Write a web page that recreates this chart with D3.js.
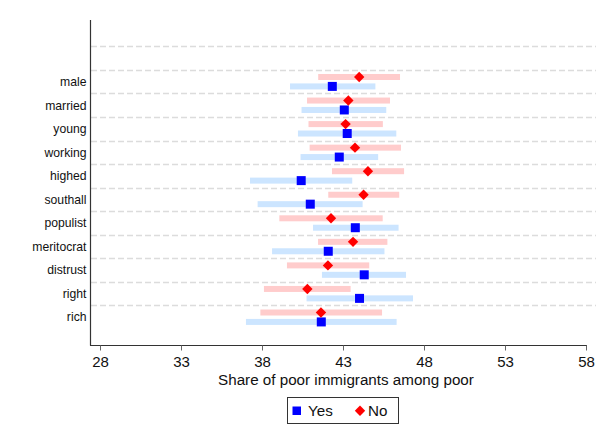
<!DOCTYPE html>
<html>
<head>
<meta charset="utf-8">
<script src="https://cdn.jsdelivr.net/npm/d3@7"></script>
<style>
  html, body { margin: 0; padding: 0; background: #fff; }
  svg { display: block; font-family: "Liberation Sans", Arial, Helvetica, sans-serif; }
</style>
</head>
<body>
<script>
// Groups shown on the vertical axis, top to bottom
const categories = ["male", "married", "young", "working", "highed", "southall",
                    "populist", "meritocrat", "distrust", "right", "rich"];

// "Yes" group: point estimate and confidence interval
const yesEst = [42.34, 43.08, 43.26, 42.77, 40.42, 40.98, 43.76, 42.09, 44.31, 44.02, 41.66];
const yesLo  = [39.73, 40.44, 40.22, 40.38, 37.26, 37.73, 41.15, 38.62, 41.70, 40.75, 37.01];
const yesHi  = [45.00, 45.67, 46.29, 45.17, 43.57, 44.21, 46.43, 45.56, 46.89, 47.32, 46.31];

// "No" group: point estimate and confidence interval
const noEst = [44.00, 43.33, 43.16, 43.74, 44.54, 44.27, 42.26, 43.62, 42.07, 40.80, 41.64];
const noLo  = [41.47, 40.78, 40.87, 40.94, 42.32, 42.09, 39.07, 41.46, 39.54, 38.12, 37.90];
const noHi  = [46.52, 45.90, 45.46, 46.58, 46.77, 46.47, 45.45, 45.74, 44.62, 43.47, 45.41];

// Axis ticks
const xTicks = [28, 33, 38, 43, 48, 53, 58];
const xTitle = "Share of poor immigrants among poor";
const legendLabels = ["Yes", "No"];

const W = 603, H = 442;
const plotLeft = 90, plotRight = 596, plotTop = 20, plotBottom = 345;

const svg = d3.select("body").append("svg")
  .attr("width", W).attr("height", H);

svg.append("rect").attr("width", W).attr("height", H).attr("fill", "#fff");

const x = d3.scaleLinear().domain([28, 58]).range([100, 586]);
// category index -> vertical position (row 0 = first category)
const y = d3.scaleLinear().domain([-2.62, 11.18]).range([plotTop, plotBottom]);

const colYes = "#0000ff", colNo = "#ff0000";
const ciYes = "#cce5ff", ciNo = "#ffcccc";

// dashed separators above each row (plus one above the empty top slot)
const gridPos = d3.range(-1.5, categories.length - 1, 1);
svg.append("g").selectAll("line").data(gridPos).join("line")
  .attr("x1", plotLeft + 1).attr("x2", plotRight)
  .attr("y1", d => Math.round(y(d)) + 0.5).attr("y2", d => Math.round(y(d)) + 0.5)
  .attr("stroke", "#dcdcdc").attr("stroke-width", 1.3)
  .attr("stroke-dasharray", "6,3");

const rows = categories.map((c, i) => ({
  c, i,
  ye: yesEst[i], yl: yesLo[i], yh: yesHi[i],
  ne: noEst[i], nl: noLo[i], nh: noHi[i]
}));

const barH = 6;
const offNo = -0.2, offYes = 0.2;

// confidence interval bars
svg.append("g").selectAll("rect").data(rows).join("rect")
  .attr("x", d => x(d.nl)).attr("width", d => x(d.nh) - x(d.nl))
  .attr("y", d => y(d.i + offNo) - barH / 2).attr("height", barH)
  .attr("fill", ciNo);

svg.append("g").selectAll("rect").data(rows).join("rect")
  .attr("x", d => x(d.yl)).attr("width", d => x(d.yh) - x(d.yl))
  .attr("y", d => y(d.i + offYes) - barH / 2).attr("height", barH)
  .attr("fill", ciYes);

// point estimates
const sq = 9;
svg.append("g").selectAll("rect").data(rows).join("rect")
  .attr("x", d => x(d.ye) - sq / 2).attr("y", d => y(d.i + offYes) - sq / 2)
  .attr("width", sq).attr("height", sq).attr("fill", colYes);

const dm = 5.2;
const diamond = (cx, cy) => `M${cx},${cy - dm}L${cx + dm},${cy}L${cx},${cy + dm}L${cx - dm},${cy}Z`;
svg.append("g").selectAll("path").data(rows).join("path")
  .attr("d", d => diamond(x(d.ne), y(d.i + offNo)))
  .attr("fill", colNo);

// axes
svg.append("line")
  .attr("x1", plotLeft + 0.5).attr("x2", plotLeft + 0.5)
  .attr("y1", plotTop).attr("y2", plotBottom + 0.5)
  .attr("stroke", "#333").attr("stroke-width", 1.2);

svg.append("line")
  .attr("x1", plotLeft).attr("x2", 587)
  .attr("y1", plotBottom + 0.5).attr("y2", plotBottom + 0.5)
  .attr("stroke", "#333").attr("stroke-width", 1.2);

const xAxis = svg.append("g")
  .attr("transform", `translate(0,${plotBottom + 0.5})`)
  .call(d3.axisBottom(x).tickValues(xTicks).tickSize(5).tickPadding(6).tickFormat(d3.format("d")));
xAxis.select(".domain").remove();
xAxis.selectAll(".tick line").attr("stroke", "#666");
xAxis.selectAll(".tick text")
  .attr("font-size", 15).attr("fill", "#111")
  .attr("font-family", "Liberation Sans, Arial, sans-serif");

svg.append("text")
  .attr("x", 346).attr("y", 385)
  .attr("text-anchor", "middle")
  .attr("font-size", 15.2).attr("fill", "#111")
  .text(xTitle);

// category labels
svg.append("g").selectAll("text").data(rows).join("text")
  .attr("x", 86.5).attr("y", d => y(d.i))
  .attr("dy", "0.35em")
  .attr("text-anchor", "end")
  .attr("font-size", 12.2).attr("fill", "#111")
  .text(d => d.c);

// legend
const lg = svg.append("g");
lg.append("rect")
  .attr("x", 287.5).attr("y", 397.5).attr("width", 111).attr("height", 26)
  .attr("fill", "#fff").attr("stroke", "#333").attr("stroke-width", 1);
lg.append("rect")
  .attr("x", 292.5).attr("y", 406.5).attr("width", 8.5).attr("height", 8.5)
  .attr("fill", colYes);
lg.append("text").attr("x", 308).attr("y", 416)
  .attr("font-size", 15.2).attr("fill", "#111").text(legendLabels[0]);
lg.append("path").attr("d", diamond(360, 410.7)).attr("fill", colNo);
lg.append("text").attr("x", 368).attr("y", 416)
  .attr("font-size", 15.2).attr("fill", "#111").text(legendLabels[1]);
</script>
</body>
</html>
